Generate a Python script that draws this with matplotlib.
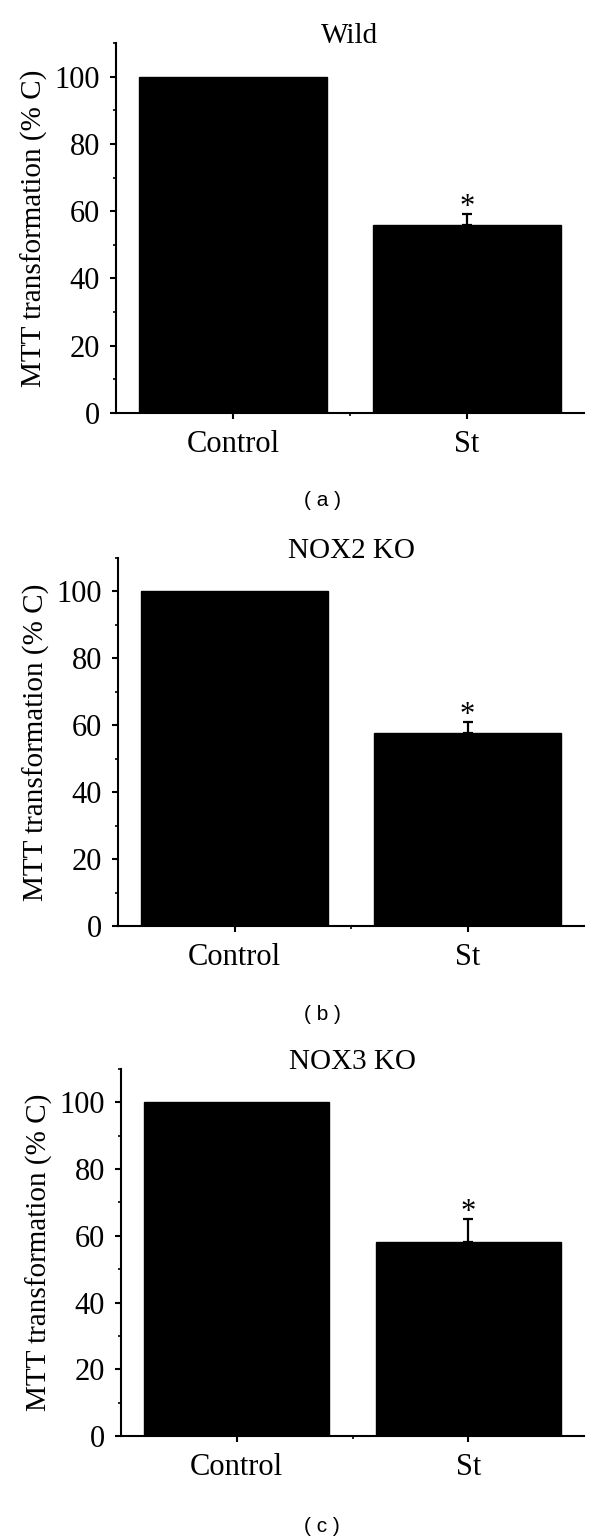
import matplotlib
matplotlib.use("Agg")
import matplotlib.pyplot as plt
from matplotlib.ticker import MultipleLocator, FixedLocator

categories = ["Control", "St"]
titles = ["Wild", "NOX2 KO", "NOX3 KO"]
panel_labels = ["( a )", "( b )", "( c )"]
values_wild = [100, 56.0]
values_nox2 = [100, 57.8]
values_nox3 = [100, 58.1]
err_wild = [0, 3.3]
err_nox2 = [0, 3.3]
err_nox3 = [0, 7.0]
yticks = [0, 20, 40, 60, 80, 100]
ylabel = "MTT transformation (% C)"

series = [values_wild, values_nox2, values_nox3]
errors = [err_wild, err_nox2, err_nox3]

W, H = 600, 1536
fig = plt.figure(figsize=(W / 100, H / 100), dpi=100)
serif = ["Liberation Serif", "DejaVu Serif"]

# axes boxes in pixels: left, right, top, bottom
boxes = [(116, 584, 43, 413), (118, 584, 558, 926), (121, 584, 1069, 1436)]
label_y = [500, 1014, 1527]

for i, (vals, errs) in enumerate(zip(series, errors)):
    l, r, t, b = boxes[i]
    ax = fig.add_axes([l / W, 1 - b / H, (r - l) / W, (b - t) / H])
    x = list(range(len(categories)))
    ax.bar(x, vals, width=0.8, color="black", edgecolor="black", zorder=2)
    ax.errorbar(x[1:], vals[1:], yerr=[[0] * (len(x) - 1), errs[1:]], fmt="none",
                ecolor="black", elinewidth=1.6, capsize=3.5, capthick=1.6, zorder=3)
    for xi, v, e in zip(x[1:], vals[1:], errs[1:]):
        ax.text(xi, v + e - 2.5, "*", ha="center", va="bottom", fontsize=22,
                family=serif, color="black")
    ax.set_xlim(-0.5, 1.5)
    ax.set_ylim(0, 110)
    ax.set_yticks(yticks)
    ax.yaxis.set_minor_locator(MultipleLocator(10))
    ax.set_xticks(x)
    ax.set_xticklabels(categories)
    ax.xaxis.set_minor_locator(FixedLocator([0.5]))
    for s in ["top", "right"]:
        ax.spines[s].set_visible(False)
    for s in ["left", "bottom"]:
        ax.spines[s].set_linewidth(1.5)
    ax.tick_params(axis="both", which="major", direction="out", length=4.5, width=1.5,
                   labelsize=22)
    ax.tick_params(axis="y", which="major", pad=7)
    ax.tick_params(axis="x", which="major", pad=8)
    ax.tick_params(axis="both", which="minor", direction="out", length=2.5, width=1.2)
    for lab in ax.get_xticklabels() + ax.get_yticklabels():
        lab.set_family(serif)
    ax.set_ylabel(ylabel, fontsize=21, family=serif, labelpad=5)
    ax.text(0.5, 1.0, titles[i], transform=ax.transAxes, ha="center", va="baseline",
            fontsize=21, family=serif)
    fig.text(322 / W, 1 - label_y[i] / H, panel_labels[i], ha="center", va="center",
             fontsize=15, family=["Liberation Sans", "DejaVu Sans"])

fig.savefig("out.png", dpi=100, facecolor="white")
